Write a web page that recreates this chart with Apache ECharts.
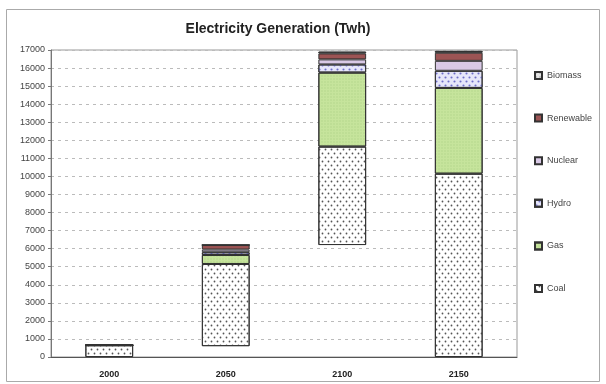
<!DOCTYPE html>
<html><head><meta charset="utf-8">
<script src="https://cdn.jsdelivr.net/npm/echarts@6/dist/echarts.min.js"></script>
<style>html,body{margin:0;padding:0;background:#fff}#c{width:606px;height:384px}</style>
</head><body><div id="c"></div>
<script>
const categories = ['2000', '2050', '2100', '2150'];
const base = [0, 600, 6200, 0];
const coal = [650, 4550, 5450, 10150];
const gas = [0, 500, 4100, 4750];
const hydro = [0, 150, 450, 950];
const nuclear = [0, 150, 280, 550];
const renewable = [0, 250, 330, 450];
const biomass = [0, 0, 100, 100];
const yTicks = { min: 0, max: 17000, interval: 1000 };

const border = { borderColor: '#333', borderWidth: 1 };
function seg(name, data, color, decal) {
  return {
    name, type: 'bar', stack: 't', data, barWidth: '41%',
    itemStyle: Object.assign({ color, decal }, border),
    emphasis: { disabled: true }
  };
}
const chart = echarts.init(document.getElementById('c'), null, { renderer: 'canvas' });
chart.setOption({
  animation: false,
  backgroundColor: '#fff',
  title: {
    text: 'Electricity Generation (Twh)', left: 273, top: 17, textAlign: 'center',
    textStyle: { fontFamily: 'Liberation Sans', fontSize: 14, fontWeight: 'bold', color: '#222' }
  },
  graphic: [{ type: 'rect', shape: { x: 6.5, y: 9.5, width: 593, height: 372 }, style: { fill: 'none', stroke: '#aaa', lineWidth: 1 }, silent: true }],
  grid: { left: 51, right: 89, top: 50, bottom: 27, show: true, borderColor: '#999', borderWidth: 1 },
  legend: {
    orient: 'vertical', left: 529, top: 66, itemWidth: 7, itemHeight: 7, itemGap: 33.6, icon: 'rect',
    data: ['Biomass', 'Renewable', 'Nuclear', 'Hydro', 'Gas', 'Coal'],
    textStyle: { fontFamily: 'Liberation Sans', fontSize: 9, color: '#444' }
  },
  xAxis: {
    type: 'category', data: categories,
    axisLine: { lineStyle: { color: '#555' } }, axisTick: { show: false },
    axisLabel: { fontFamily: 'Liberation Sans', fontSize: 9, fontWeight: 'bold', color: '#222', margin: 13 }
  },
  yAxis: {
    type: 'value', min: yTicks.min, max: yTicks.max, interval: yTicks.interval,
    axisLine: { show: true, lineStyle: { color: '#777' } },
    axisTick: { show: true, length: 3, lineStyle: { color: '#777' } },
    axisLabel: { fontFamily: 'Liberation Sans', fontSize: 9, color: '#444', margin: 6, formatter: v => String(v) },
    splitLine: { lineStyle: { color: '#bbb', type: [3, 4] } }
  },
  series: [
    { name: 'base', type: 'bar', stack: 't', data: base, barWidth: '41%', itemStyle: { color: 'rgba(0,0,0,0)' }, silent: true },
    seg('Coal', coal, '#ffffff', { symbol: 'circle', symbolSize: 0.6, color: '#555', dashArrayX: [[3, 3], [0, 3, 3, 0]], dashArrayY: [3, 1] }),
    seg('Gas', gas, '#c6e49c', { symbol: 'rect', symbolSize: 0.5, color: 'rgba(120,170,80,0.35)', dashArrayX: [2, 1], dashArrayY: [2, 1] }),
    seg('Hydro', hydro, '#e6e6fa', { symbol: 'circle', symbolSize: 0.7, color: '#6d6dc8', dashArrayX: [[3, 3], [0, 3, 3, 0]], dashArrayY: [3, 1] }),
    seg('Nuclear', nuclear, '#d9c9e6', null),
    seg('Renewable', renewable, '#9c5454', null),
    seg('Biomass', biomass, '#e4e4e4', { symbol: 'rect', symbolSize: 0.6, color: '#888', dashArrayX: [2, 2], dashArrayY: [2, 2] })
  ]
});
</script></body></html>
